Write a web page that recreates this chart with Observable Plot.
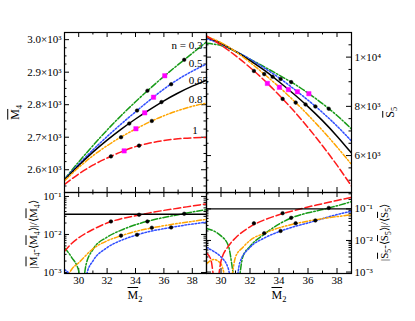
<!DOCTYPE html>
<html><head><meta charset="utf-8">
<script src="https://cdn.jsdelivr.net/npm/d3@7"></script>
<script src="https://cdn.jsdelivr.net/npm/@observablehq/plot@0.6"></script>
<style>
html,body{margin:0;padding:0;background:#fff;}
#wrap{position:relative;width:415px;height:321px;overflow:hidden;font-family:'Liberation Serif','Times New Roman',Times,serif;}
#wrap svg{position:absolute;left:0;top:0;}
.t{position:absolute;white-space:nowrap;font-size:12px;line-height:1;color:#000;transform-origin:center center;}
.ov{text-decoration:overline;}
.sb{font-size:70%;position:relative;top:0.35em;}
</style></head><body><div id="wrap"></div>
<script>
// ---- data ----
const series = ["0.3", "0.5", "0.65", "0.8", "1"];
const M2 = [29, 30, 31, 32, 33, 34, 35, 36, 37, 38, 39];

// top-left: M4 vs M2
const M4_n03  = [2571, 2624, 2674, 2722, 2767, 2809, 2849, 2887, 2923, 2958, 2993];
const M4_n05  = [2571, 2617, 2661, 2702, 2741, 2778, 2814, 2848, 2878, 2903, 2925];
const M4_n065 = [2569, 2613, 2654, 2691, 2725, 2756, 2785, 2812, 2836, 2857, 2875];
const M4_n08  = [2566, 2607, 2643, 2674, 2701, 2725, 2747, 2766, 2782, 2795, 2805];
const M4_n1   = [2555, 2587, 2614, 2636, 2655, 2671, 2682, 2690, 2695, 2698, 2699];

// top-right: S5 vs M2
const S5_n03  = [10560, 10470, 10230, 9920, 9600, 9270, 8930, 8540, 8110, 7630, 7080];
const S5_n05  = [10750, 10530, 10240, 9920, 9550, 9160, 8720, 8250, 7750, 7200, 6590];
const S5_n065 = [10820, 10560, 10230, 9860, 9460, 9000, 8510, 7990, 7420, 6790, 6100];
const S5_n08  = [10840, 10590, 10230, 9790, 9300, 8790, 8240, 7650, 7020, 6350, 5640];
const S5_n1   = [10860, 10490, 10060, 9580, 9050, 8460, 7830, 7140, 6400, 5610, 4760];

// bottom-left: |M4-<M4>|/<M4>
const relM4_n03_x = [29, 29.5, 30, 30.2, 30.5, 31, 32, 33, 34, 35, 36, 37, 38, 39];
const relM4_n03   = [0.0045, 0.0025, 0.0011, 0.0003, 0.0015, 0.004, 0.0085, 0.013, 0.018, 0.023, 0.028, 0.033, 0.039, 0.045];
const relM4_n05_x = [29, 29.5, 30, 30.3, 30.6, 31, 32, 33, 34, 35, 36, 37, 38, 39];
const relM4_n05   = [0.0012, 0.0008, 0.0004, 0.0002, 0.001, 0.002, 0.0045, 0.007, 0.0095, 0.012, 0.0142, 0.0165, 0.0188, 0.021];
const relM4_n08_x = [29, 29.3, 29.5, 30, 31, 32, 33, 34, 35, 36, 37, 38, 39];
const relM4_n08   = [0.0005, 0.0009, 0.0012, 0.0018, 0.0042, 0.0068, 0.0093, 0.012, 0.0145, 0.017, 0.0195, 0.022, 0.025];
const relM4_n1_x  = [29, 29.5, 30, 31, 32, 33, 34, 35, 36, 37, 38, 39];
const relM4_n1    = [0.0036, 0.0058, 0.0082, 0.0135, 0.020, 0.026, 0.031, 0.037, 0.043, 0.049, 0.056, 0.064];
const relM4_ref = 0.034;

// bottom-right: |S5-<S5>|/<S5>
const relS5_n03_x = [29, 29.5, 30, 30.5, 31.1, 31.5, 32, 33, 34, 35, 36, 37, 38, 39];
const relS5_n03   = [0.024, 0.02, 0.014, 0.007, 0.0003, 0.003, 0.0065, 0.016, 0.033, 0.055, 0.075, 0.095, 0.125, 0.17];
const relS5_n05_x = [29, 29.5, 30, 30.5, 30.9, 31.3, 32, 33, 34, 35, 36, 37, 38, 39];
const relS5_n05   = [0.006, 0.0045, 0.003, 0.0013, 0.0002, 0.002, 0.006, 0.012, 0.019, 0.027, 0.036, 0.049, 0.066, 0.084];
const relS5_n08_x = [29, 29.5, 30, 30.55, 31, 31.5, 32, 33, 34, 35, 36, 37, 38, 39];
const relS5_n08   = [0.0018, 0.0025, 0.0018, 0.0003, 0.003, 0.006, 0.01, 0.017, 0.025, 0.033, 0.041, 0.049, 0.057, 0.065];
const relS5_n1_x  = [29, 29.3, 29.65, 30, 30.5, 31, 32, 33, 34, 35, 36, 37, 38, 39];
const relS5_n1    = [0.004, 0.0025, 0.0003, 0.0022, 0.0065, 0.012, 0.027, 0.045, 0.065, 0.088, 0.115, 0.145, 0.185, 0.23];
const relS5_ref = 0.1;

// symbols (first black, magenta, second black) per series n = 0.3 .. 1
const mkM2_a = [34.84, 34.11, 33.56, 32.98, 32.27];
const mkM2_b = [36.06, 35.27, 34.65, 34.03, 33.20];
const mkM2_c = [37.43, 36.51, 35.83, 35.15, 34.25];
const mkM4_a = [2843, 2782, 2742, 2700, 2641];
const mkM4_b = [2889, 2823, 2775, 2726, 2658];
const mkM4_c = [2938, 2863, 2808, 2750, 2674];
const mkS5_a = [8984, 9112, 9202, 9310, 9437];
const mkS5_b = [8514, 8593, 8681, 8774, 8932];
const mkS5_c = [7904, 7995, 8078, 8152, 8302];
const mkRelM4_a = [0.022, 0.0098, null, 0.0093, 0.022];
const mkRelM4_c = [0.035, 0.0153, null, 0.015, 0.033];
const mkRelS5_a = [0.052, 0.020, null, 0.017, 0.035];
const mkRelS5_c = [0.107, 0.043, null, 0.035, 0.073];

// curve annotations (top-left)
const annText = ["n = 0.3", "0.5", "0.65", "0.8", "1"];
const annM2 = [38.72, 37.75, 37.75, 37.75, 38.0];
const annM4 = [2982, 2928, 2876, 2815, 2722];
const annAnchor = ["end", "start", "start", "start", "start"];

// tick values / labels
const xMajor = [30, 32, 34, 36, 38];
const xMinor = [29, 31, 33, 35, 37, 39];
const m4Ticks = [2600, 2700, 2800, 2900, 3000];
const m4TickLabels = ["2.6×10³", "2.7×10³", "2.8×10³", "2.9×10³", "3.0×10³"];
const s5Ticks = [6000, 8000, 10000];
const s5TickLabels = ["6×10³", "8×10³", "1×10⁴"];
const logTicks = [0.001, 0.01, 0.1];
const logTickLabels = ["10⁻³", "10⁻²", "10⁻¹"];

// ---- styles ----
const colors = ["#169a16", "#2f4dff", "#000000", "#ffa500", "#ff1a1a"];
const dashes = ["6,2,1.5,2", "1.6,1.8", null, "5,2,1.5,2,1.5,2", "7,3"];
const FONT = "'Liberation Serif','Times New Roman',Times,serif";
const W = 415, H = 321;
const wrap = document.getElementById("wrap");

function rows(xs, ys) { return ys.map((v, i) => ({x: xs[i], y: v})); }
function lineMark(data, k) {
  const o = {x: "x", y: "y", stroke: colors[k], strokeWidth: 1.5, curve: "monotone-x", clip: true};
  if (dashes[k]) o.strokeDasharray = dashes[k];
  return Plot.line(data, o);
}
function dots(xs, ys, kind) {
  const d = ys.map((v, i) => ({x: xs[i], y: v})).filter(r => r.y != null);
  if (kind === "sq") return Plot.dot(d, {x: "x", y: "y", symbol: "square", r: 2.5, fill: "#ff00ff", stroke: "#ff00ff", strokeWidth: 0.4});
  return Plot.dot(d, {x: "x", y: "y", r: 1.8, fill: "#000", stroke: "#000", strokeWidth: 0.5});
}
function logMinor(lo, hi) {
  const out = [];
  for (let e = -4; e <= 0; e++) for (let m = 2; m <= 9; m++) { const v = m * Math.pow(10, e); if (v > lo && v < hi) out.push(v); }
  return out;
}

function panel(cfg) {
  const {l, r, t, b} = cfg.box;
  const fw = r - l, fh = b - t;
  const tx = (vals, len) => [
    Plot.tickX(vals, {x: d => d, insetTop: fh - len, stroke: "#000"}),
    Plot.tickX(vals, {x: d => d, insetBottom: fh - len, stroke: "#000"})
  ];
  const ty = (vals, len) => [
    Plot.tickY(vals, {y: d => d, insetRight: fw - len, stroke: "#000"}),
    Plot.tickY(vals, {y: d => d, insetLeft: fw - len, stroke: "#000"})
  ];
  const marks = [
    ...tx(xMajor, 5), ...tx(xMinor, 2.5),
    ...ty(cfg.yMajor, 5), ...ty(cfg.yMinor, 2.5),
    ...cfg.marks,
    Plot.frame({stroke: "#000", strokeWidth: 1.2})
  ];
  const xopt = cfg.xLabels
    ? {domain: [29, 39], ticks: xMajor, tickSize: 0, tickPadding: 3, label: null, tickFormat: d => String(d)}
    : {domain: [29, 39], axis: null};
  const svg = Plot.plot({
    width: W, height: H,
    marginLeft: l, marginRight: W - r, marginTop: t, marginBottom: H - b,
    style: {background: "transparent", fontFamily: FONT, fontSize: "11px", color: "#000", overflow: "visible"},
    x: xopt,
    y: {type: cfg.yType, domain: cfg.yDomain, axis: cfg.yAxis, ticks: cfg.yLabelTicks,
        tickFormat: d => cfg.yLabels[cfg.yLabelTicks.indexOf(d)], tickSize: 0, tickPadding: 3, label: null},
    marks
  });
  wrap.appendChild(svg);
}

const M4all = [M4_n03, M4_n05, M4_n065, M4_n08, M4_n1];
const S5all = [S5_n03, S5_n05, S5_n065, S5_n08, S5_n1];
const ann = annText.map((s, i) => ({s, x: annM2[i], y: annM4[i], a: annAnchor[i]}));

// top-left
panel({
  box: {l: 64, r: 206, t: 32, b: 192}, xLabels: false,
  yType: "linear", yDomain: [2530, 3022], yAxis: "left",
  yLabelTicks: m4Ticks, yLabels: m4TickLabels,
  yMajor: m4Ticks, yMinor: d3.range(2550, 3022, 25).filter(v => v % 100 !== 0),
  marks: [
    ...M4all.map((a, k) => lineMark(rows(M2, a), k)),
    dots(mkM2_a, mkM4_a), dots(mkM2_b, mkM4_b, "sq"), dots(mkM2_c, mkM4_c),
    Plot.text(ann.filter(d => d.a === "end"), {x: "x", y: "y", text: "s", textAnchor: "end", fontSize: 11, fill: "#000"}),
    Plot.text(ann.filter(d => d.a === "start"), {x: "x", y: "y", text: "s", textAnchor: "start", fontSize: 11, fill: "#000"})
  ]
});

// top-right
panel({
  box: {l: 206, r: 351, t: 32, b: 192}, xLabels: false,
  yType: "linear", yDomain: [4500, 11000], yAxis: "right",
  yLabelTicks: s5Ticks, yLabels: s5TickLabels,
  yMajor: s5Ticks, yMinor: d3.range(5000, 11000, 500).filter(v => v % 2000 !== 0),
  marks: [
    ...S5all.map((a, k) => lineMark(rows(M2, a), k)),
    dots(mkM2_a, mkS5_a), dots(mkM2_b, mkS5_b, "sq"), dots(mkM2_c, mkS5_c)
  ]
});

// bottom-left
panel({
  box: {l: 64, r: 206, t: 192, b: 273}, xLabels: true,
  yType: "log", yDomain: [0.00094, 0.127], yAxis: "left",
  yLabelTicks: logTicks, yLabels: logTickLabels,
  yMajor: logTicks, yMinor: logMinor(0.00094, 0.127),
  marks: [
    lineMark(rows(relM4_n03_x, relM4_n03), 0),
    lineMark(rows(relM4_n05_x, relM4_n05), 1),
    lineMark(rows(relM4_n08_x, relM4_n08), 3),
    lineMark(rows(relM4_n1_x, relM4_n1), 4),
    Plot.ruleY([relM4_ref], {stroke: "#000", strokeWidth: 1.4}),
    dots(mkM2_a, mkRelM4_a), dots(mkM2_c, mkRelM4_c)
  ]
});

// bottom-right
panel({
  box: {l: 206, r: 351, t: 192, b: 273}, xLabels: true,
  yType: "log", yDomain: [0.0009, 0.33], yAxis: "right",
  yLabelTicks: logTicks, yLabels: logTickLabels,
  yMajor: logTicks, yMinor: logMinor(0.0009, 0.33),
  marks: [
    lineMark(rows(relS5_n03_x, relS5_n03), 0),
    lineMark(rows(relS5_n05_x, relS5_n05), 1),
    lineMark(rows(relS5_n08_x, relS5_n08), 3),
    lineMark(rows(relS5_n1_x, relS5_n1), 4),
    Plot.ruleY([relS5_ref], {stroke: "#000", strokeWidth: 1.4}),
    dots(mkM2_a, mkRelS5_a), dots(mkM2_c, mkRelS5_c)
  ]
});

// axis titles
const M = s => `<span class="ov">${s.charAt(0)}</span><span class="sb">${s.slice(1)}</span>`;
const titles = [
  {html: M("M4"), x: 15, y: 112, rot: true},
  {html: M("S5"), x: 390, y: 112, rot: true},
  {html: `|${M("M4")}-⟨${M("M4")}⟩|/⟨${M("M4")}⟩`, x: 33, y: 234, rot: true, fs: 11},
  {html: `|${M("S5")}-⟨${M("S5")}⟩|/⟨${M("S5")}⟩`, x: 384, y: 232, rot: true, fs: 11},
  {html: M("M2"), x: 135, y: 295, rot: false},
  {html: M("M2"), x: 279, y: 295, rot: false}
];
for (const tt of titles) {
  const d = document.createElement("div");
  d.className = "t";
  d.innerHTML = tt.html;
  if (tt.fs) d.style.fontSize = tt.fs + "px";
  wrap.appendChild(d);
  const w = d.offsetWidth, h = d.offsetHeight;
  d.style.left = (tt.x - w / 2) + "px";
  d.style.top = (tt.y - h / 2) + "px";
  if (tt.rot) d.style.transform = "rotate(-90deg)";
}
</script></body></html>
